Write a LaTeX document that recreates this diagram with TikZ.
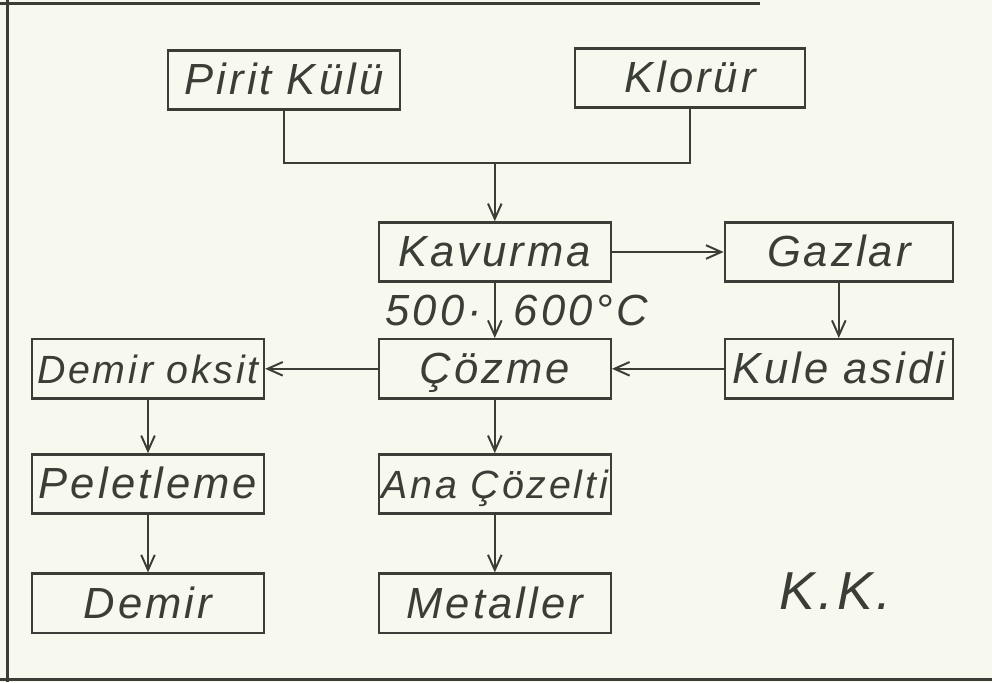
\documentclass[tikz,border=0pt]{standalone}
\usepackage{fontspec}
\setmainfont{Liberation Sans}[LetterSpace=7]
\usepackage{tikz}
\usetikzlibrary{arrows.meta,positioning,calc}

\definecolor{paper}{RGB}{248,249,238}
\definecolor{ink}{RGB}{58,62,55}

\tikzset{
    stepbox/.style={draw=ink, line width=1.7pt, text=ink, minimum width=5.8cm, minimum height=1.48cm, inner sep=0pt,
        text height=0.86cm, text depth=0.12cm, font=\fontsize{31}{36}\selectfont\itshape},
    smalltext/.style={font=\fontsize{28}{32}\selectfont\itshape},
    templabel/.style={text=ink, inner sep=0pt, font=\fontsize{31}{36}\selectfont\itshape},
    flow/.style={draw=ink, line width=1.4pt},
    arr/.style={flow, -{Straight Barb[length=3.8mm,width=3.4mm,line width=1.4pt]}}
}

\begin{document}
\begin{tikzpicture}
    % page and frame
    \useasboundingbox (0,0) rectangle (24.8,-17.05);
    \fill[paper] (0,0) rectangle (24.8,-17.05);
    \draw[ink, line width=2pt] (0.18,0) -- (0.18,-17.05);
    \draw[ink, line width=2pt] (0,-0.08) -- (19,-0.08);
    \draw[ink, line width=2pt] (0,-16.98) -- (24.8,-16.98);
    % raw materials
    \node[stepbox] (pirit) at (7.1,-2.0) {Pirit Külü};
    \node[stepbox, minimum width=5.75cm] (klorur) at (17.25,-1.95) {Klorür};
    % roasting and gases
    \node[stepbox] (kavurma) at (12.37,-6.3) {Kavurma};
    \node[stepbox, minimum width=5.7cm] (gazlar) at (20.97,-6.3) {Gazlar};
    % dissolving row
    \node[stepbox, smalltext] (demiroksit) at (3.7,-9.22) {Demir oksit};
    \node[stepbox] (cozme) at (12.37,-9.22) {Çözme};
    \node[stepbox, minimum width=5.7cm] (kule) at (20.97,-9.22) {Kule asidi};
    % products
    \node[stepbox] (pelet) at (3.7,-12.1) {Peletleme};
    \node[stepbox, smalltext] (ana) at (12.37,-12.1) {Ana Çözelti};
    \node[stepbox] (demir) at (3.7,-15.08) {Demir};
    \node[stepbox] (metal) at (12.37,-15.08) {Metaller};
    \node[text=ink, font=\fontsize{38}{42}\selectfont\itshape] (kk) at (20.88,-14.78) {K.K.};

    % connectors
    \coordinate (join) at (12.37,-4.08);
    \draw[flow] (pirit.south) |- (join) -| (klorur.south);
    \draw[arr] (join) -- (kavurma.north);
    \draw[arr] (kavurma.east) -- (gazlar.west);
    \draw[arr] (kavurma.south) -- (cozme.north)
        node[midway, left=0.3cm, templabel] (t1) {500·}
        node[midway, right=0.45cm, templabel] (t2) {600°C};
    \draw[arr] (gazlar.south) -- (kule.north);
    \draw[arr] (kule.west) -- (cozme.east);
    \draw[arr] (cozme.west) -- (demiroksit.east);
    \draw[arr] (demiroksit.south) -- (pelet.north);
    \draw[arr] (pelet.south) -- (demir.north);
    \draw[arr] (cozme.south) -- (ana.north);
    \draw[arr] (ana.south) -- (metal.north);
\end{tikzpicture}
\end{document}
